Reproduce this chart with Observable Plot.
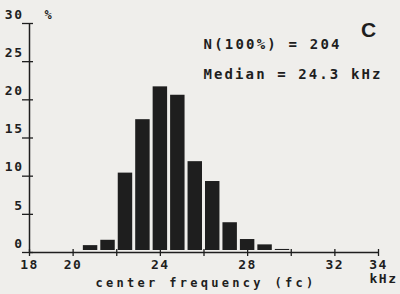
<!DOCTYPE html>
<html><head><meta charset="utf-8">
<script src="https://cdn.jsdelivr.net/npm/d3@7"></script>
<script src="https://cdn.jsdelivr.net/npm/@observablehq/plot@0.6"></script>
<style>
html,body{margin:0;padding:0;background:#efeeeb;overflow:hidden;}
</style></head><body><div id="chart"></div>
<script>
const binCenters = [20.8, 21.6, 22.4, 23.2, 24.0, 24.8, 25.6, 26.4, 27.2, 28.0, 28.8, 29.6];
const percents = [0.9, 1.6, 10.4, 17.4, 21.7, 20.6, 11.9, 9.3, 3.9, 1.7, 1.0, 0.4];
const binWidth = 0.8;
const yTicks = [0, 5, 10, 15, 20, 25, 30];
const xTicks = [18, 20, 22, 24, 26, 28, 30, 32, 34];
const xTickLabels = [18, 20, 24, 28, 32, 34];
const nLabel = "N(100%) = 204";
const medianLabel = "Median = 24.3 kHz";
const panelLabel = "C";
const xLabel = "center frequency (fc)";
const xUnit = "kHz";
const yUnit = "%";

const bins = binCenters.map((c, i) => ({x1: c - binWidth / 2, x2: c + binWidth / 2, pct: percents[i]}));
const mono = "'DejaVu Sans Mono', monospace";
const ink = "#1e1e1e";
const txt = {fill: ink, fontFamily: mono, fontWeight: "bold"};

const plot = Plot.plot({
  width: 400, height: 294,
  marginLeft: 29, marginRight: 22, marginTop: 23, marginBottom: 42,
  style: {background: "transparent", color: ink, fontFamily: mono, overflow: "visible"},
  x: {domain: [18, 34], label: null},
  y: {domain: [0, 30], label: null},
  marks: [
    Plot.rectY(bins, {x1: "x1", x2: "x2", y: "pct", fill: ink, insetLeft: 1.5, insetRight: 1.5, insetBottom: 2}),
    Plot.ruleX([18], {stroke: ink, strokeWidth: 1.5}),
    Plot.ruleY([0], {stroke: ink, strokeWidth: 1.5}),
    Plot.axisY({ticks: yTicks, tickSize: 11, dx: 4, text: null, label: null, stroke: ink, strokeWidth: 1.3}),
    Plot.axisY({ticks: yTicks, tickSize: 0, tickPadding: 6, dy: -9, label: null, fontSize: 13, ...txt}),
    Plot.axisX({ticks: xTicks, tickSize: 7, dy: -3, text: null, label: null, stroke: ink, strokeWidth: 1.3}),
    Plot.axisX({ticks: xTickLabels, tickSize: 0, tickPadding: 7, dx: 0, label: null, fontSize: 13, ...txt}),
    Plot.text([yUnit], {frameAnchor: "top-left", dx: 15, dy: -13, fontSize: 12, ...txt}),
    Plot.text([xUnit], {frameAnchor: "bottom-right", textAnchor: "middle", dx: 5, dy: 30, fontSize: 13, ...txt}),
    Plot.text([xLabel], {frameAnchor: "bottom", dy: 34, dx: 2, fontSize: 12, ...txt}),
    Plot.text([nLabel], {frameAnchor: "top-left", textAnchor: "start", dx: 174, dy: 16, fontSize: 14, ...txt}),
    Plot.text([medianLabel], {frameAnchor: "top-left", textAnchor: "start", dx: 174, dy: 46, fontSize: 14, ...txt}),
    Plot.text([panelLabel], {frameAnchor: "top-left", textAnchor: "middle", dx: 339, dy: -1, fontSize: 21, fill: ink, fontFamily: "'Liberation Sans', Arial, sans-serif", fontWeight: "bold"})
  ]
});
const spacing = new Map([
  ...yTicks.map(t => [String(t), "1.5px"]),
  ...xTickLabels.map(t => [String(t), "1.5px"]),
  [xUnit, "1.5px"], [xLabel, "3.3px"], [nLabel, "2.2px"], [medianLabel, "2.1px"]
]);
d3.select(plot).selectAll("text").each(function() {
  const s = spacing.get(this.textContent);
  if (s) this.style.letterSpacing = s;
});
document.getElementById("chart").append(plot);
</script></body></html>
